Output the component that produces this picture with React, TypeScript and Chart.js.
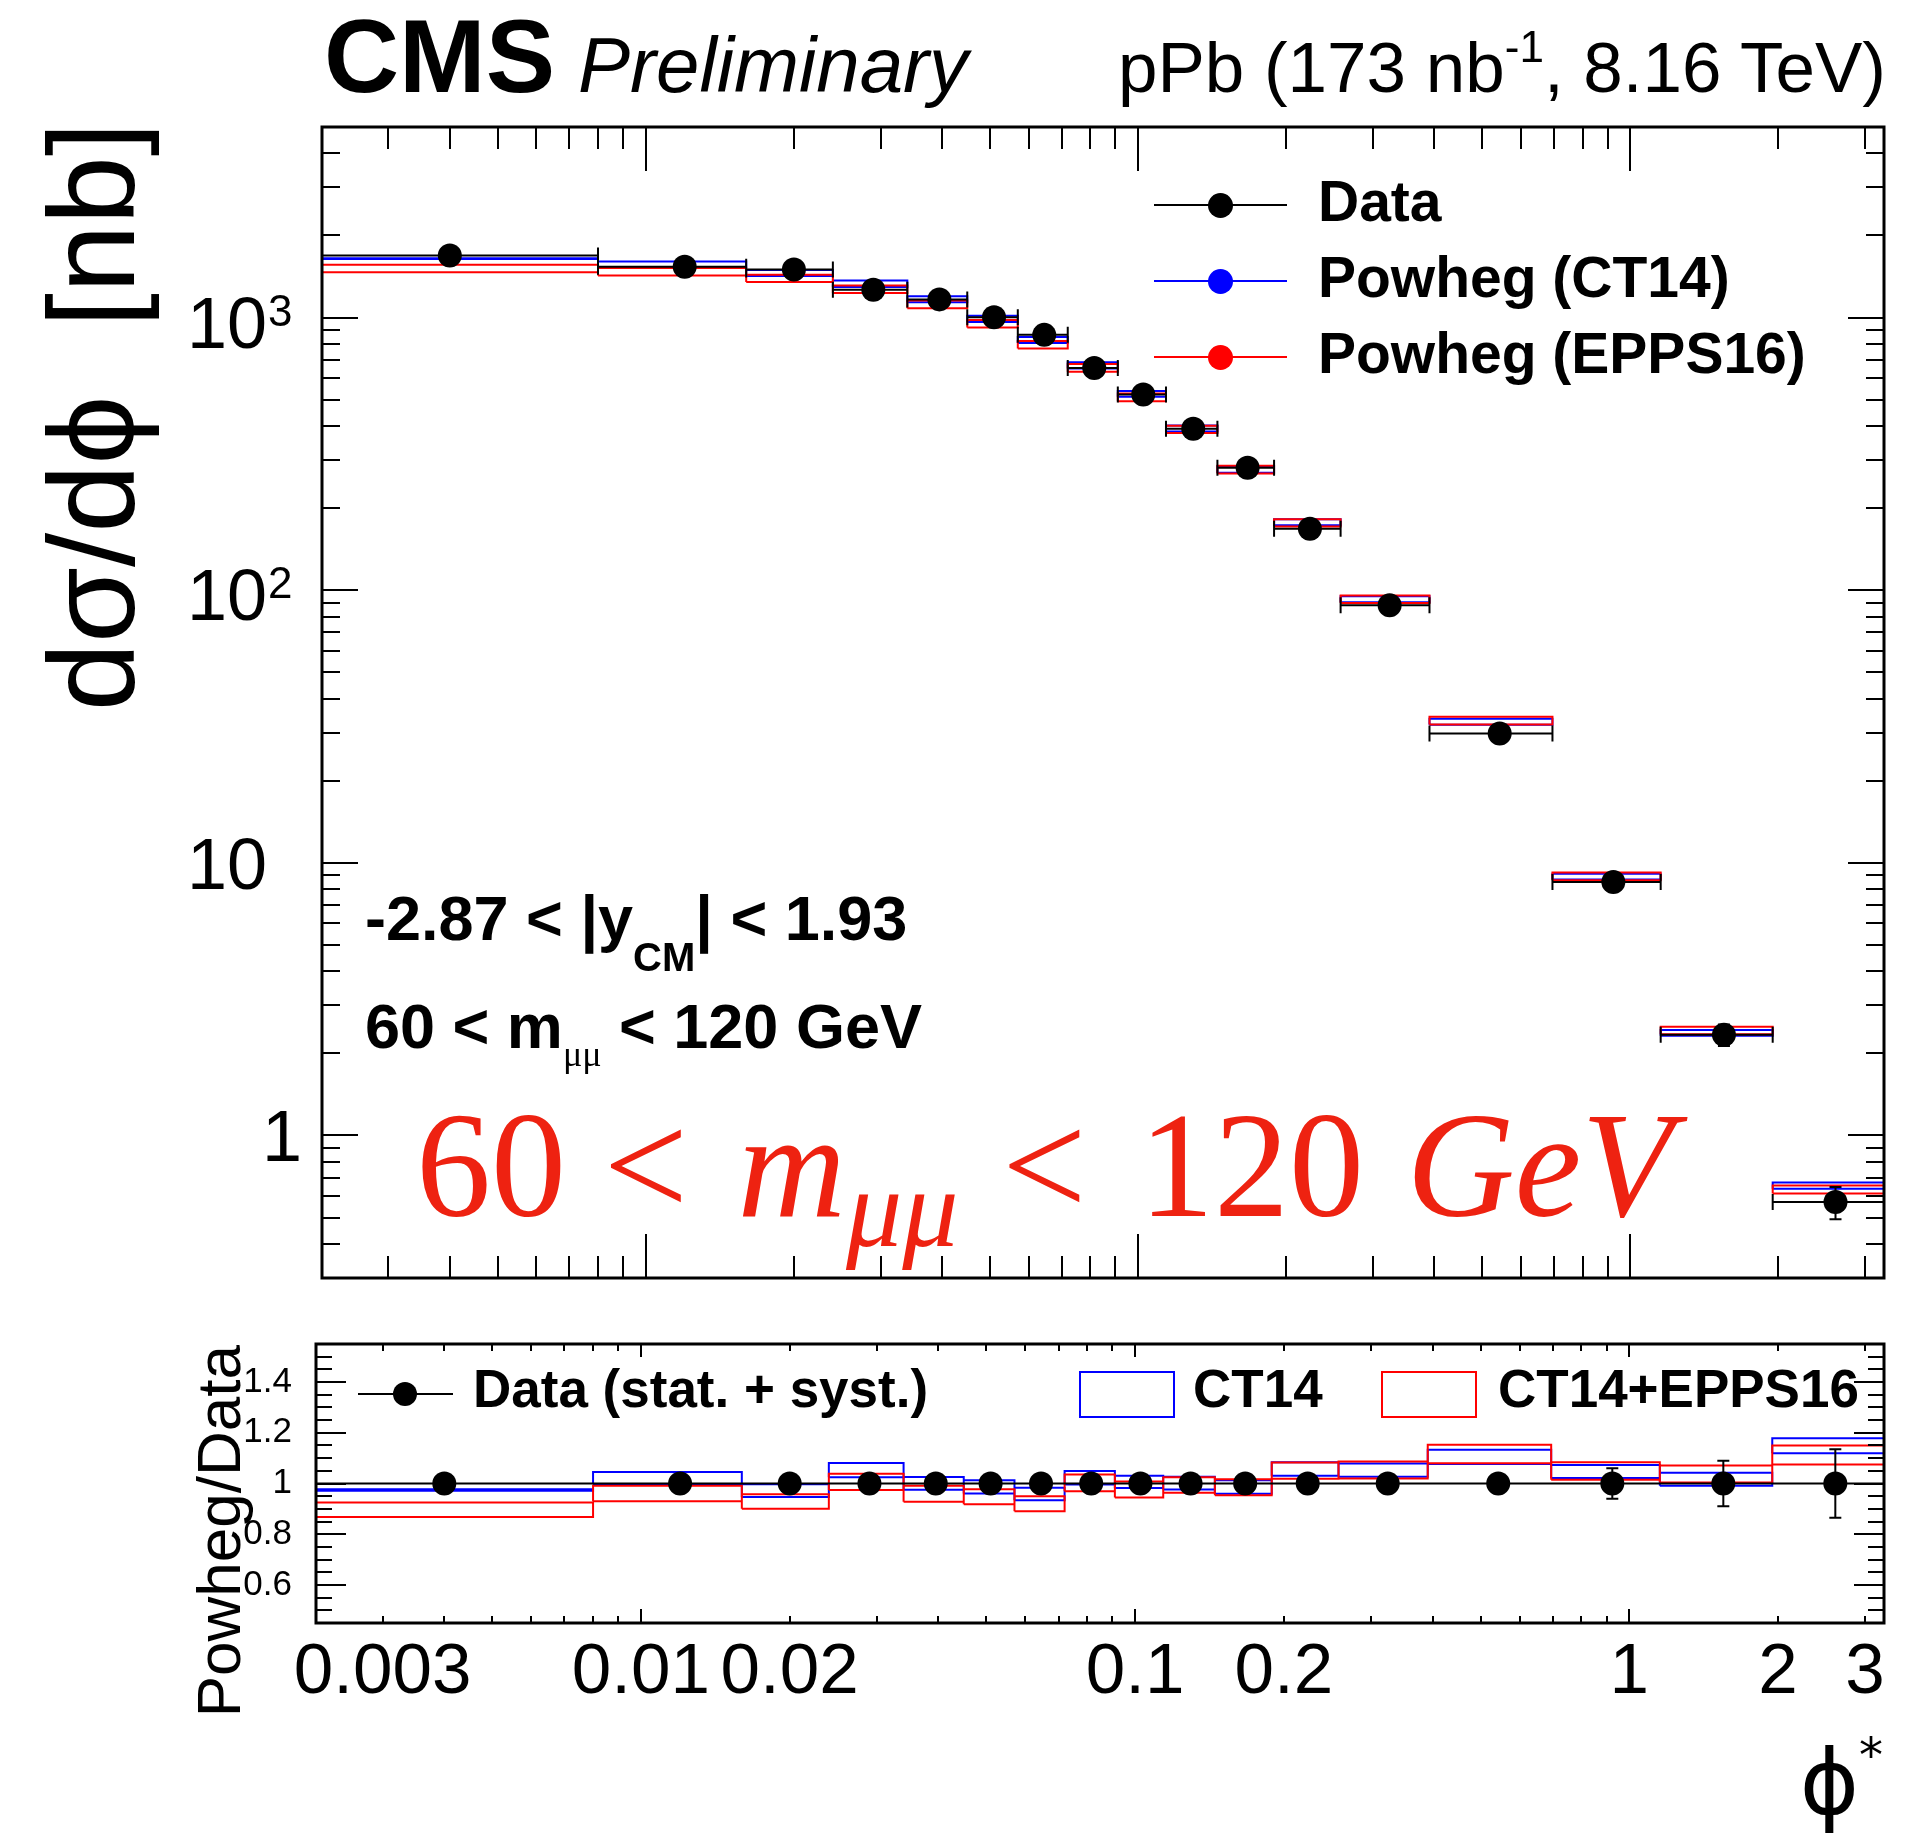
import React, { useEffect, useRef } from "react";
import { Chart, registerables } from "chart.js";

Chart.register(...registerables);

// ---------------- data ----------------
const binEdges = [0, 0.008, 0.016, 0.024, 0.034, 0.045, 0.057, 0.072, 0.091, 0.114, 0.145, 0.189, 0.258, 0.391, 0.695, 1.153, 1.947, 3.277];
const dataXsec = [1689, 1535, 1500, 1264, 1166, 1002, 864, 653, 522, 391, 281, 168, 88, 29.8, 8.5, 2.34, 0.57];
const dataRelErr = [0.02, 0.02, 0.02, 0.02, 0.02, 0.02, 0.02, 0.02, 0.02, 0.02, 0.02, 0.025, 0.025, 0.03, 0.06, 0.09, 0.135];
const ct14RatioHi = [0.977, 1.045, 0.997, 1.081, 1.026, 1.013, 0.983, 1.049, 1.031, 1.027, 1.013, 1.084, 1.079, 1.133, 1.073, 1.042, 1.178];
const ct14RatioLo = [0.971, 0.997, 0.947, 1.025, 0.975, 0.961, 0.934, 0.996, 0.982, 0.976, 0.960, 1.031, 1.027, 1.077, 1.022, 0.991, 1.119];
const eppsRatioHi = [0.925, 0.991, 0.958, 1.038, 0.991, 0.977, 0.950, 1.035, 1.008, 1.025, 1.017, 1.083, 1.087, 1.153, 1.084, 1.071, 1.150];
const eppsRatioLo = [0.868, 0.930, 0.900, 0.974, 0.928, 0.918, 0.891, 0.969, 0.945, 0.964, 0.954, 1.019, 1.020, 1.080, 1.015, 1.004, 1.075];

const xTickValues = [0.003, 0.01, 0.02, 0.1, 0.2, 1, 2, 3];
const xTickLabels = ["0.003", "0.01", "0.02", "0.1", "0.2", "1", "2", "3"];
const yTickValues = [1, 10, 100, 1000];
const yTickMantissa = ["1", "10", "10", "10"];
const yTickExponent = ["", "", "2", "3"];
const ratioTickValues = [0.6, 0.8, 1, 1.2, 1.4];
const ratioTickLabels = ["0.6", "0.8", "1", "1.2", "1.4"];

// axis ranges
const X_MIN = 0.0022;
const X_MAX = 3.277;
const Y_MIN = 0.3;
const Y_MAX = 5000;
const R_MIN = 0.45;
const R_MAX = 1.55;

const SANS = '"Liberation Sans", Arial, Helvetica, sans-serif';
const SERIF = '"Liberation Serif", "Times New Roman", serif';
const BLUE = "#0000ff";
const RED = "#ff0000";

// ---------------- helpers ----------------
const nBins = dataXsec.length;
const lowEdge = (i: number) => Math.max(binEdges[i], X_MIN);
const centers = dataXsec.map((_, i) => (binEdges[i] + binEdges[i + 1]) / 2);

// one open rectangle (outline) per bin, spanning [lo, hi]
function boxData(lo: number[], hi: number[]) {
  const pts: { x: number; y: number | null }[] = [];
  for (let i = 0; i < nBins; i++) {
    const xl = lowEdge(i);
    const xr = binEdges[i + 1];
    pts.push({ x: xl, y: lo[i] });
    pts.push({ x: xr, y: lo[i] });
    pts.push({ x: xr, y: hi[i] });
    pts.push({ x: xl, y: hi[i] });
    pts.push({ x: xl, y: lo[i] });
    pts.push({ x: xl, y: null });
  }
  return pts;
}

function logTicks(min: number, max: number) {
  const out: { v: number; major: boolean }[] = [];
  for (let e = Math.floor(Math.log10(min)); e <= Math.ceil(Math.log10(max)); e++) {
    for (let k = 1; k <= 9; k++) {
      const v = k * Math.pow(10, e);
      if (v >= min * 1.0001 && v <= max * 0.9999) out.push({ v, major: k === 1 });
    }
  }
  return out;
}

function linTicks(min: number, max: number, step: number, majorEvery: number) {
  const out: { v: number; major: boolean }[] = [];
  const start = Math.ceil(min / step - 1e-6);
  const end = Math.floor(max / step + 1e-6);
  for (let k = start; k <= end; k++) {
    const v = k * step;
    if (v <= min + 1e-9 || v >= max - 1e-9) continue;
    out.push({ v, major: Math.abs(v / majorEvery - Math.round(v / majorEvery)) < 1e-6 });
  }
  return out;
}

function framePlugin(o: {
  xTicks: { v: number; major: boolean }[];
  yTicks: { v: number; major: boolean }[];
  xMajB: number; xMinB: number; xMajT: number; xMinT: number;
  yMaj: number; yMin: number;
}) {
  return {
    id: "rootFrame",
    afterDatasetsDraw(chart: any) {
      const { ctx, chartArea: a } = chart;
      const xs = chart.scales.x;
      const ys = chart.scales.y;
      ctx.save();
      ctx.strokeStyle = "#000";
      ctx.lineWidth = 2;
      ctx.beginPath();
      for (const t of o.xTicks) {
        const px = Math.round(xs.getPixelForValue(t.v));
        ctx.moveTo(px, a.bottom);
        ctx.lineTo(px, a.bottom - (t.major ? o.xMajB : o.xMinB));
        ctx.moveTo(px, a.top);
        ctx.lineTo(px, a.top + (t.major ? o.xMajT : o.xMinT));
      }
      for (const t of o.yTicks) {
        const py = Math.round(ys.getPixelForValue(t.v));
        const len = t.major ? o.yMaj : o.yMin;
        ctx.moveTo(a.left, py);
        ctx.lineTo(a.left + len, py);
        ctx.moveTo(a.right, py);
        ctx.lineTo(a.right - len, py);
      }
      ctx.stroke();
      ctx.lineWidth = 3;
      ctx.strokeRect(a.left, a.top, a.right - a.left, a.bottom - a.top);
      ctx.restore();
    },
  };
}

// log-axis labels in ROOT style (mantissa with raised exponent)
const yLabelPlugin = {
  id: "yLogLabels",
  afterDraw(chart: any) {
    const { ctx } = chart;
    const ys = chart.scales.y;
    ctx.save();
    ctx.fillStyle = "#000";
    ctx.textBaseline = "alphabetic";
    for (let i = 0; i < yTickValues.length; i++) {
      const py = ys.getPixelForValue(yTickValues[i]);
      const m = yTickMantissa[i];
      const ex = yTickExponent[i];
      ctx.font = `72px ${SANS}`;
      ctx.textAlign = "right";
      if (ex) {
        ctx.fillText(m, 267, py + 30);
        ctx.font = `44px ${SANS}`;
        ctx.textAlign = "left";
        ctx.fillText(ex, 268, py + 8);
      } else if (m.length > 1) {
        ctx.fillText(m, 267, py + 26);
      } else {
        ctx.fillText(m, 302, py + 26);
      }
    }
    ctx.restore();
  },
};

function capsPlugin(o: { yVals: number[]; relErr: number[]; hCaps: boolean }) {
  return {
    id: "errCaps",
    afterDatasetsDraw(chart: any) {
      const { ctx } = chart;
      const xs = chart.scales.x;
      const ys = chart.scales.y;
      ctx.save();
      ctx.strokeStyle = "#000";
      ctx.lineWidth = 2;
      ctx.beginPath();
      for (let i = 0; i < nBins; i++) {
        const v = o.yVals[i];
        const py = ys.getPixelForValue(v);
        const pc = xs.getPixelForValue(centers[i]);
        if (o.hCaps) {
          if (binEdges[i] > X_MIN) {
            const pl = xs.getPixelForValue(binEdges[i]);
            ctx.moveTo(pl, py - 8);
            ctx.lineTo(pl, py + 8);
          }
          if (i < nBins - 1) {
            const pr = xs.getPixelForValue(binEdges[i + 1]);
            ctx.moveTo(pr, py - 8);
            ctx.lineTo(pr, py + 8);
          }
        }
        const pHi = ys.getPixelForValue(v * (1 + o.relErr[i]));
        const pLo = ys.getPixelForValue(v * (1 - o.relErr[i]));
        ctx.moveTo(pc - 6, pHi);
        ctx.lineTo(pc + 6, pHi);
        ctx.moveTo(pc - 6, pLo);
        ctx.lineTo(pc + 6, pLo);
      }
      ctx.stroke();
      ctx.restore();
    },
  };
}

function xErrData(yVals: number[]) {
  const pts: { x: number; y: number | null }[] = [];
  for (let i = 0; i < nBins; i++) {
    pts.push({ x: lowEdge(i), y: yVals[i] });
    pts.push({ x: binEdges[i + 1], y: yVals[i] });
    pts.push({ x: binEdges[i + 1], y: null });
  }
  return pts;
}

function yErrData(yVals: number[]) {
  const pts: { x: number; y: number | null }[] = [];
  for (let i = 0; i < nBins; i++) {
    pts.push({ x: centers[i], y: yVals[i] * (1 - dataRelErr[i]) });
    pts.push({ x: centers[i], y: yVals[i] * (1 + dataRelErr[i]) });
    pts.push({ x: centers[i], y: null });
  }
  return pts;
}

function lineDs(label: string, data: any[], color: string, order: number, extra: any = {}) {
  return {
    type: "line",
    label,
    data,
    borderColor: color,
    backgroundColor: color,
    borderWidth: 2,
    pointRadius: 0,
    spanGaps: false,
    fill: false,
    tension: 0,
    order,
    ...extra,
  };
}

// ---------------- text helper ----------------
function T(props: {
  x: number; y: number; size: number; children: any;
  bold?: boolean; italic?: boolean; align?: "left" | "right";
  family?: string; color?: string;
}) {
  const family = props.family || SANS;
  const asc = family === SERIF ? 0.8375 : 0.8465;
  const style: any = {
    position: "absolute",
    top: props.y - asc * props.size,
    fontSize: props.size,
    lineHeight: `${props.size}px`,
    fontFamily: family,
    fontWeight: props.bold ? "bold" : "normal",
    fontStyle: props.italic ? "italic" : "normal",
    color: props.color || "#000",
    whiteSpace: "pre",
  };
  if (props.align === "right") style.right = 1920 - props.x;
  else style.left = props.x;
  return <div style={style}>{props.children}</div>;
}

function Sub(props: { size: number; dy: number; children: any; family?: string; bold?: boolean; italic?: boolean; mr?: number; ml?: number }) {
  return (
    <span
      style={{
        fontSize: props.size,
        position: "relative",
        top: props.dy,
        fontFamily: props.family,
        fontWeight: props.bold === undefined ? undefined : props.bold ? "bold" : "normal",
        fontStyle: props.italic === undefined ? undefined : props.italic ? "italic" : "normal",
        marginRight: props.mr || 0,
        marginLeft: props.ml || 0,
      }}
    >
      {props.children}
    </span>
  );
}

export default function App() {
  const upRef = useRef<HTMLCanvasElement | null>(null);
  const loRef = useRef<HTMLCanvasElement | null>(null);

  useEffect(() => {
    const ct14Hi = dataXsec.map((v, i) => v * ct14RatioHi[i]);
    const ct14Lo = dataXsec.map((v, i) => v * ct14RatioLo[i]);
    const eppsHi = dataXsec.map((v, i) => v * eppsRatioHi[i]);
    const eppsLo = dataXsec.map((v, i) => v * eppsRatioLo[i]);

    const upper = new Chart(upRef.current as HTMLCanvasElement, {
      type: "line",
      data: {
        datasets: [
          {
            type: "scatter",
            label: "Data",
            data: centers.map((c, i) => ({ x: c, y: dataXsec[i] })),
            pointRadius: 12,
            pointBackgroundColor: "#000",
            pointBorderWidth: 0,
            order: 0,
          } as any,
          lineDs("Data xerr", xErrData(dataXsec), "#000", 1),
          lineDs("Data yerr", yErrData(dataXsec), "#000", 1),
          lineDs("Powheg (CT14)", boxData(ct14Lo, ct14Hi), BLUE, 3),
          lineDs("Powheg (EPPS16)", boxData(eppsLo, eppsHi), RED, 2),
        ] as any,
      },
      options: {
        responsive: false,
        animation: false,
        devicePixelRatio: 1,
        layout: { padding: { top: 127, right: 36, bottom: 22, left: 322 } },
        plugins: { legend: { display: false }, tooltip: { enabled: false } },
        scales: {
          x: { type: "logarithmic", display: false, min: X_MIN, max: X_MAX },
          y: { type: "logarithmic", display: false, min: Y_MIN, max: Y_MAX },
        },
      } as any,
      plugins: [
        capsPlugin({ yVals: dataXsec, relErr: dataRelErr, hCaps: true }),
        framePlugin({
          xTicks: logTicks(X_MIN, X_MAX),
          yTicks: logTicks(Y_MIN, Y_MAX),
          xMajB: 44, xMinB: 22, xMajT: 44, xMinT: 22,
          yMaj: 36, yMin: 18,
        }),
        yLabelPlugin,
      ],
    });

    const ones = dataXsec.map(() => 1);
    const lower = new Chart(loRef.current as HTMLCanvasElement, {
      type: "line",
      data: {
        datasets: [
          {
            type: "scatter",
            label: "Data (stat. + syst.)",
            data: centers.map((c) => ({ x: c, y: 1 })),
            pointRadius: 12,
            pointBackgroundColor: "#000",
            pointBorderWidth: 0,
            order: 0,
          } as any,
          lineDs("Data yerr", yErrData(ones), "#000", 1),
          lineDs("unity", [{ x: X_MIN, y: 1 }, { x: X_MAX, y: 1 }], "#000", 1),
          lineDs("CT14", boxData(ct14RatioLo, ct14RatioHi), BLUE, 3),
          lineDs("CT14+EPPS16", boxData(eppsRatioLo, eppsRatioHi), RED, 2),
        ] as any,
      },
      options: {
        responsive: false,
        animation: false,
        devicePixelRatio: 1,
        layout: { padding: { top: 44, right: 36, bottom: 112, left: 0 } },
        plugins: { legend: { display: false }, tooltip: { enabled: false } },
        scales: {
          x: {
            type: "logarithmic",
            min: X_MIN,
            max: X_MAX,
            grid: { display: false },
            border: { display: false },
            afterBuildTicks: (s: any) => {
              s.ticks = xTickValues.map((v) => ({ value: v }));
            },
            afterFit: (s: any) => {
              s.height = 100;
              s.paddingLeft = 0;
              s.paddingRight = 0;
            },
            ticks: {
              autoSkip: false,
              maxRotation: 0,
              minRotation: 0,
              padding: 0,
              color: "#000",
              font: { family: SANS, size: 71 },
              callback: (v: any) => {
                const k = xTickValues.findIndex((t) => Math.abs(t - Number(v)) < 1e-9);
                return k >= 0 ? xTickLabels[k] : "";
              },
            },
          },
          y: {
            type: "linear",
            min: R_MIN,
            max: R_MAX,
            grid: { display: false },
            border: { display: false },
            afterBuildTicks: (s: any) => {
              s.ticks = ratioTickValues.map((v) => ({ value: v }));
            },
            afterFit: (s: any) => {
              s.width = 316;
              s.paddingTop = 0;
              s.paddingBottom = 0;
            },
            ticks: {
              autoSkip: false,
              padding: 16,
              color: "#000",
              font: { family: SANS, size: 35 },
              callback: (v: any) => {
                const k = ratioTickValues.findIndex((t) => Math.abs(t - Number(v)) < 1e-9);
                return k >= 0 ? ratioTickLabels[k] : "";
              },
            },
          },
        },
      } as any,
      plugins: [
        capsPlugin({ yVals: ones, relErr: dataRelErr, hCaps: false }),
        framePlugin({
          xTicks: logTicks(X_MIN, X_MAX),
          yTicks: linTicks(R_MIN, R_MAX, 0.05, 0.2),
          xMajB: 14, xMinB: 7, xMajT: 13, xMinT: 7,
          yMaj: 30, yMin: 16,
        }),
      ],
    });

    return () => {
      upper.destroy();
      lower.destroy();
    };
  }, []);

  const legendRow = (y: number, color: string, label: string) => (
    <>
      <div style={{ position: "absolute", left: 1154, top: y - 1, width: 133, height: 2, background: color }} />
      <div
        style={{
          position: "absolute",
          left: 1220 - 12.5,
          top: y - 12.5,
          width: 25,
          height: 25,
          borderRadius: "50%",
          background: color,
        }}
      />
      <T x={1318} y={y + 16} size={57} bold>
        {label}
      </T>
    </>
  );

  return (
    <div style={{ position: "absolute", left: 0, top: 0, width: 1920, height: 1835, background: "#fff", overflow: "hidden" }}>
      <canvas ref={upRef} width={1920} height={1300} style={{ position: "absolute", left: 0, top: 0, width: 1920, height: 1300 }} />
      <canvas ref={loRef} width={1920} height={535} style={{ position: "absolute", left: 0, top: 1300, width: 1920, height: 535 }} />

      {/* header */}
      <T x={324} y={92} size={104} bold>CMS</T>
      <T x={578} y={92} size={78} italic>Preliminary</T>
      <T x={1886} y={92} size={71} align="right">
        pPb (173 nb<Sub size={44} dy={-30}>-1</Sub>, 8.16 TeV)
      </T>

      {/* y title upper */}
      <div
        style={{
          position: "absolute",
          left: 134 - 0.8465 * 123,
          top: 122 + 700,
          width: 700,
          textAlign: "right",
          transformOrigin: "0 0",
          transform: "rotate(-90deg)",
          fontFamily: SANS,
          fontSize: 123,
          lineHeight: "123px",
          whiteSpace: "pre",
        }}
      >
        {"d\u03C3/d\u03D5  [nb]"}
      </div>

      {/* y title lower */}
      <div
        style={{
          position: "absolute",
          left: 240 - 0.8465 * 62,
          top: 1345 + 450,
          width: 450,
          textAlign: "right",
          transformOrigin: "0 0",
          transform: "rotate(-90deg)",
          fontFamily: SANS,
          fontSize: 62,
          lineHeight: "62px",
          whiteSpace: "pre",
        }}
      >
        Powheg/Data
      </div>

      {/* x title */}
      <T x={1883} y={1814} size={90} align="right" family={'"DejaVu Sans", sans-serif'}>
        {"\u03D5"}
        <Sub size={48} dy={-42}>*</Sub>
      </T>

      {/* upper legend */}
      {legendRow(205, "#000", "Data")}
      {legendRow(281, BLUE, "Powheg (CT14)")}
      {legendRow(357, RED, "Powheg (EPPS16)")}

      {/* annotations */}
      <T x={365} y={940} size={63} bold>
        -2.87 &lt; |y<Sub size={40} dy={31}>CM</Sub>| &lt; 1.93
      </T>
      <T x={365} y={1048} size={63} bold>
        60 &lt; m<Sub size={36} dy={18} family={SERIF} bold={false}>{"\u03BC\u03BC"}</Sub> &lt; 120 GeV
      </T>

      <T x={416} y={1216} size={150} family={SERIF} color="#ee2211">
        {"60 < "}
        <span style={{ fontStyle: "italic", marginLeft: 12 }}>m</span>
        <Sub size={112} dy={30} italic mr={6}>{"\u03BC\u03BC"}</Sub>
        {" < "}
        <span style={{ marginLeft: 15 }}>120 </span>
        <span style={{ fontStyle: "italic", marginLeft: 5 }}>GeV</span>
      </T>

      {/* lower legend */}
      <div style={{ position: "absolute", left: 358, top: 1393, width: 95, height: 2, background: "#000" }} />
      <div style={{ position: "absolute", left: 405 - 12, top: 1394 - 12, width: 24, height: 24, borderRadius: "50%", background: "#000" }} />
      <T x={473} y={1407} size={53} bold>Data (stat. + syst.)</T>
      <div style={{ position: "absolute", left: 1079, top: 1371, width: 96, height: 47, border: `2px solid ${BLUE}`, boxSizing: "border-box" }} />
      <T x={1193} y={1407} size={53} bold>CT14</T>
      <div style={{ position: "absolute", left: 1381, top: 1371, width: 96, height: 47, border: `2px solid ${RED}`, boxSizing: "border-box" }} />
      <T x={1498} y={1407} size={53} bold>CT14+EPPS16</T>
    </div>
  );
}
